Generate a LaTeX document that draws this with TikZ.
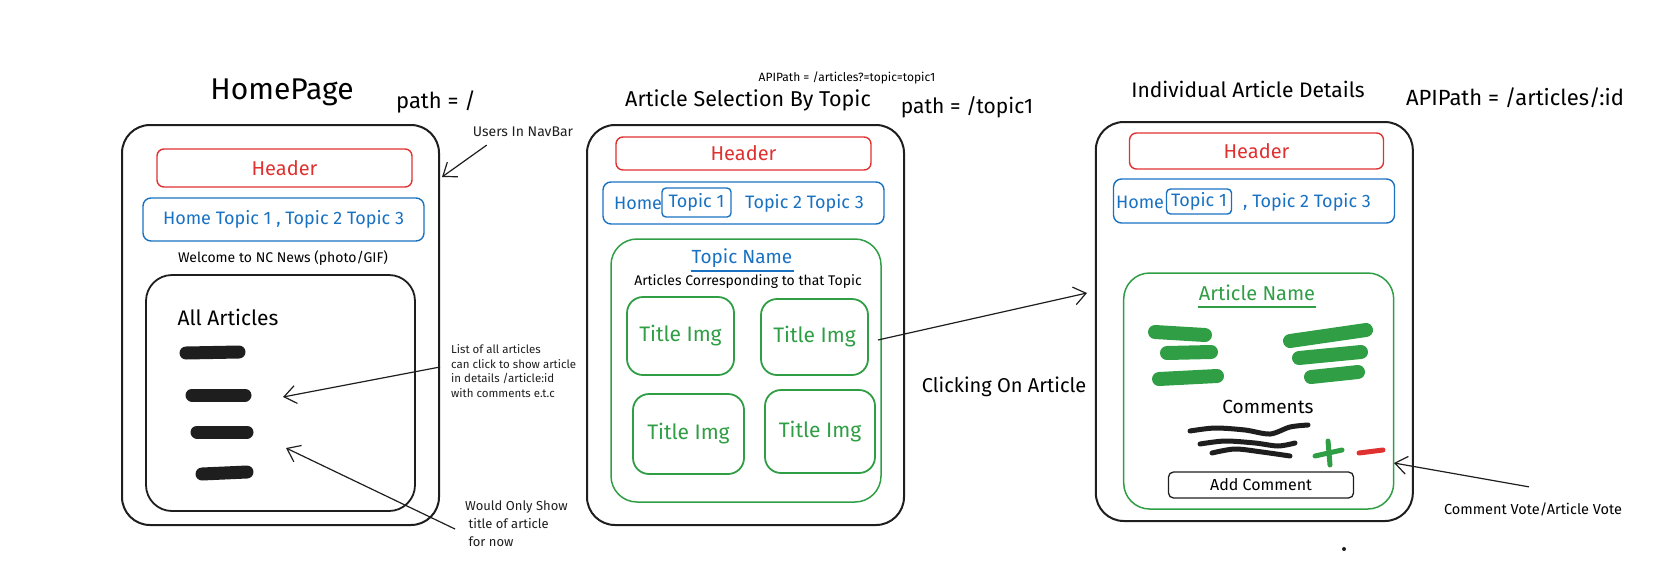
\documentclass[tikz,border=0pt]{standalone}
\usepackage{fontspec}
\setmainfont{Fira Sans}
\usetikzlibrary{calc,arrows.meta}
\definecolor{ink}{HTML}{1E1E1E}
\definecolor{xred}{HTML}{E03131}
\definecolor{xblue}{HTML}{1971C2}
\definecolor{xgreen}{HTML}{2F9E44}
\newcommand{\sz}[1]{\fontsize{#1}{1.2\dimexpr #1pt\relax}\selectfont}

\begin{document}
\begin{tikzpicture}[x=1pt,y=-1pt,
    frame/.style={draw=ink,line width=2pt,rounded corners=28pt},
    headbox/.style={draw=xred,text=xred,line width=1.4pt,rounded corners=7pt,font=\sz{20}},
    navbox/.style={draw=xblue,text=xblue,line width=1.4pt,rounded corners=8pt,font=\sz{18}},
    tabbox/.style={draw=xblue,text=xblue,line width=1.4pt,rounded corners=4pt,inner sep=2pt,font=\sz{18}},
    greenbox/.style={draw=xgreen,line width=1.5pt,rounded corners=26pt},
    tilebox/.style={draw=xgreen,text=xgreen,line width=1.8pt,rounded corners=16pt,font=\sz{21}},
    bar/.style={draw=ink,line width=13pt,line cap=round},
    gbar/.style={draw=xgreen,line width=14pt,line cap=round},
    arr/.style={draw=ink,line width=1.2pt,-{Straight Barb[length=12pt,width=18pt]}},
    note/.style={text=ink,align=left,inner sep=0pt}]
    \useasboundingbox (0,0) rectangle (1662,584);

    \node[font=\sz{30}] (hometitle) at (282,92) {HomePage};
    \node[font=\sz{22}] (homepath) at (436,102) {path = /};
    \node[frame,minimum width=317pt,minimum height=400pt] (home) at (280.5,325) {};
    \node[headbox,minimum width=255pt,minimum height=38pt] (head1) at (284.5,168) {Header};
    \node[navbox,minimum width=281pt,minimum height=43pt] (nav1) at (283.5,219.5) {Home Topic 1 , Topic 2 Topic 3};
    \node[font=\sz{14}] (welcome) at (283,258) {Welcome to NC News (photo/GIF)};
    \node[draw=ink,line width=1.8pt,rounded corners=26pt,minimum width=269pt,minimum height=236pt] (allbox) at (280.5,393) {};
    \node[font=\sz{21}] (alltitle) at (228,317) {All Articles};
    \draw[bar] (186,353) -- (239,352);
    \draw[bar] (192,395) -- (245,395);
    \draw[bar] (197,432) -- (247,432);
    \draw[bar] (202,474) -- (247,472);

    \node[note,font=\sz{14}] (users) at (523,132) {Users In NavBar};
    \coordinate (navtip) at (442,177);
    \draw[arr] ([xshift=14pt,yshift=-8pt]users.south west) -- (navtip);
    \node[note,font={\fontsize{11.5}{14.5}\selectfont},anchor=west] (listnote) at (451,371) {List of all articles\\can click to show article\\in details /article:id\\with comments e.t.c};
    \coordinate (listtip) at (283,397);
    \draw[arr] ([xshift=-11pt,yshift=4pt]listnote.west) -- (listtip);
    \node[note,font={\fontsize{13}{18}\selectfont},anchor=west] (wouldnote) at (465,524) {Would Only Show\\\ title of article\\\ for now};
    \coordinate (wouldtip) at (286,448);
    \draw[arr] ([xshift=-10pt,yshift=-5pt]wouldnote.west) -- (wouldtip);

    \node[font=\sz{12}] (topicapi) at (847,78) {APIPath = /articles?=topic=topic1};
    \node[font=\sz{21.5}] (topictitle) at (748,100) {Article Selection By Topic};
    \node[font=\sz{21}] (topicpath) at (967,107) {path = /topic1};
    \node[frame,minimum width=317pt,minimum height=400pt] (topic) at (745.5,325) {};
    \node[headbox,minimum width=255pt,minimum height=33pt] (head2) at (743.5,153.5) {Header};
    \node[navbox,minimum width=281pt,minimum height=42pt] (nav2) at (743.5,203) {};
    \node[text=xblue,font=\sz{18}] (home2) at (638,203) {Home};
    \node[tabbox,minimum width=69pt,minimum height=29pt] (tab2) at (696.5,202.5) {Topic 1};
    \node[text=xblue,font=\sz{18}] (rest2) at (804.5,203) {Topic 2 Topic 3};
    \node[greenbox,minimum width=270pt,minimum height=263pt] (topiclist) at (746,370.5) {};
    \node[text=xblue,font=\sz{19},inner sep=1pt] (topicname) at (742,258) {Topic Name};
    \draw[xblue,line width=2pt] ([yshift=-2pt]topicname.south west) -- ([yshift=-2pt]topicname.south east);
    \node[font=\sz{14}] (corresp) at (748,282) {Articles Corresponding to that Topic};
    \node[tilebox,minimum width=107pt,minimum height=78pt] (tile1) at (680.5,336) {Title Img};
    \node[tilebox,minimum width=107pt,minimum height=76pt] (tile2) at (814.5,337) {Title Img};
    \node[tilebox,minimum width=111pt,minimum height=80pt] (tile3) at (688.5,434) {Title Img};
    \node[tilebox,minimum width=110pt,minimum height=83pt] (tile4) at (820,431.5) {Title Img};

    \coordinate (clicktip) at (1087,293);
    \draw[arr] ([xshift=9pt,yshift=-3pt]tile2.east) -- (clicktip);
    \node[font=\sz{20}] (clicking) at (1004,387) {Clicking On Article};

    \node[font=\sz{21}] (detailtitle) at (1248,89) {Individual Article Details};
    \node[font=\sz{22}] (detailapi) at (1515,98) {APIPath = /articles/:id};
    \node[frame,minimum width=317pt,minimum height=399pt] (detail) at (1254.3,321.5) {};
    \node[headbox,minimum width=254pt,minimum height=36pt] (head3) at (1256.5,151) {Header};
    \node[navbox,minimum width=281pt,minimum height=44pt] (nav3) at (1254,201) {};
    \node[text=xblue,font=\sz{18}] (home3) at (1140,202) {Home};
    \node[tabbox,minimum width=65pt,minimum height=25pt] (tab3) at (1199,201.5) {Topic 1};
    \node[text=xblue,font=\sz{18}] (rest3) at (1307,202) {, Topic 2 Topic 3};
    \node[greenbox,minimum width=270pt,minimum height=236pt] (article) at (1258.7,391) {};
    \node[text=xgreen,font=\sz{20},inner sep=1pt] (artname) at (1257,293) {Article Name};
    \draw[xgreen,line width=2pt] ([yshift=-5pt]artname.south west) -- ([yshift=-5pt]artname.south east);
    \draw[gbar] (1155,332) -- (1205,335);
    \draw[gbar] (1167,353) -- (1211,352);
    \draw[gbar] (1159,379) -- (1217,376);
    \draw[gbar] (1290,341) -- (1366,330);
    \draw[gbar] (1299,358) -- (1361,352);
    \draw[gbar] (1311,377) -- (1358,372);
    \node[font=\sz{19}] (comments) at (1268,407) {Comments};
    \draw[ink,line width=5pt,line cap=round] plot[smooth] coordinates {(1190,431) (1215,428) (1245,430) (1270,434) (1290,427) (1308,425)};
    \draw[ink,line width=5pt,line cap=round] plot[smooth] coordinates {(1200,444) (1225,441) (1255,443) (1278,446) (1295,443)};
    \draw[ink,line width=5pt,line cap=round] plot[smooth] coordinates {(1212,453) (1235,449) (1262,452) (1290,456)};
    \draw[xgreen,line width=5pt,line cap=round] (1315,456) -- (1342,450) (1328,441) -- (1330,465);
    \draw[xred,line width=5pt,line cap=round] (1359,453) -- (1383,450);
    \node[draw=ink,line width=1.3pt,rounded corners=5pt,minimum width=185pt,minimum height=26pt,font=\sz{16}] (addcomment) at (1261,485) {Add Comment};

    \node[font=\sz{14.5}] (votenote) at (1533,509) {Comment Vote/Article Vote};
    \coordinate (votetip) at (1394,463);
    \draw[arr] ([xshift=-4pt,yshift=12pt]votenote.north) -- (votetip);
    \fill[ink] (1344,549) circle (2pt);
\end{tikzpicture}
\end{document}
